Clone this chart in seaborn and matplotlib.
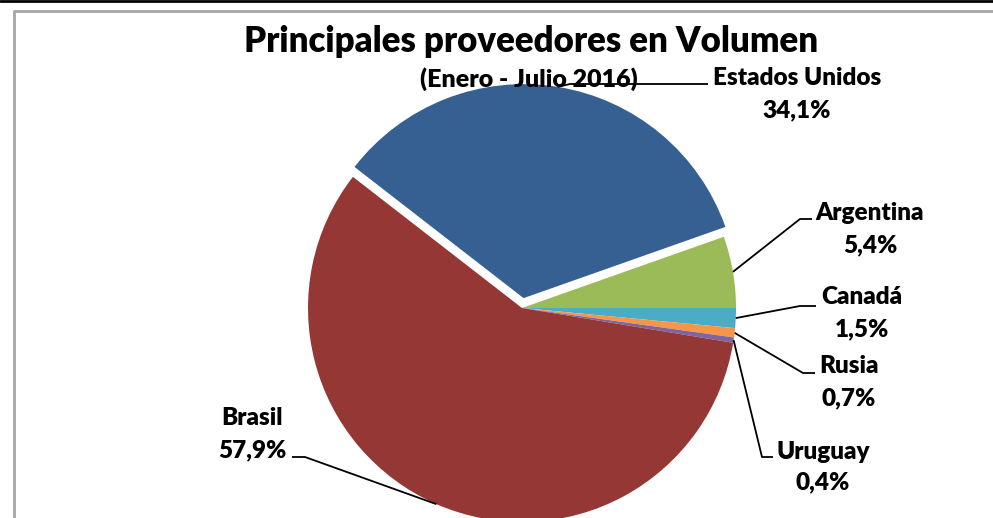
import numpy as np
import matplotlib
matplotlib.use("Agg")
import matplotlib.pyplot as plt
import seaborn as sns
from matplotlib.lines import Line2D

# ---- data ----
countries = ["Estados Unidos", "Argentina", "Canadá", "Rusia", "Uruguay", "Brasil"]
shares = [34.1, 5.4, 1.5, 0.7, 0.4, 57.9]
share_labels = ["34,1%", "5,4%", "1,5%", "0,7%", "0,4%", "57,9%"]
title = "Principales proveedores en Volumen"
subtitle = "(Enero - Julio 2016)"

# ---- style ----
sns.set_theme(style="white")
plt.rcParams["font.family"] = ["Lato", "DejaVu Sans"]
colors = ["#366092", "#9BBB59", "#4BACC6", "#F79646", "#8064A2", "#953735"]

W, H = 993, 518
fig = plt.figure(figsize=(W / 100, H / 100), dpi=100)
ax = fig.add_axes([0, 0, 1, 1])

cx, cy, R = 522, H - 308, 214
start = 142.2
explode = [10, 0, 0, 0, 0, 0]
wedges, _ = ax.pie(shares, colors=colors, startangle=start, counterclock=False,
                   center=(cx, cy), radius=R, explode=explode,
                   wedgeprops=dict(linewidth=0), frame=True)
ax.set_xlim(0, W)
ax.set_ylim(0, H)
ax.set_aspect("equal")
ax.axis("off")

# label layout in image px
layout = {
    "Estados Unidos": dict(elbow=(570, 84), end=(708, 84), tx=797, ty=78),
    "Argentina": dict(elbow=(800, 219), end=(812, 219), tx=870, ty=213),
    "Canadá": dict(elbow=(800, 306), end=(816, 306), tx=862, ty=297),
    "Rusia": dict(elbow=(803, 373), end=(815, 373), tx=849, ty=366),
    "Uruguay": dict(elbow=(762, 457), end=(773, 457), tx=823, ty=452),
    "Brasil": dict(elbow=(305, 457), end=(292, 457), tx=252, ty=418),
}

FW = 800
total = sum(shares)
cum = 0.0
for name, val, lab, w in zip(countries, shares, share_labels, wedges):
    a1 = start - 360 * cum / total
    a2 = start - 360 * (cum + val) / total
    cum += val
    mid = np.deg2rad((a1 + a2) / 2)
    wc = w.center
    ax_pt = (wc[0] + R * np.cos(mid), wc[1] + R * np.sin(mid))
    L = layout[name]
    ex, ey = L["elbow"]
    nx, ny = L["end"]
    ax.plot([ax_pt[0], ex, nx], [ax_pt[1], H - ey, H - ny], color="black", lw=1.3,
            solid_capstyle="butt", zorder=3)
    ax.text(L["tx"], H - L["ty"], name, ha="center", va="center",
            fontsize=17.5, fontweight=FW, color="black", zorder=4)
    dy = 32 if name != "Uruguay" else 30
    ax.text(L["tx"], H - L["ty"] - dy, lab, ha="center", va="center",
            fontsize=17.5, fontweight=FW, color="black", zorder=4)

ax.text(531, H - 41, title, ha="center", va="center", fontsize=25,
        fontweight=FW, color="black", zorder=4)
ax.text(529, H - 79, subtitle, ha="center", va="center", fontsize=18,
        fontweight=FW, color="black", zorder=2)

# frame
fig.add_artist(Line2D([0, 1], [1 - 1 / H, 1 - 1 / H], transform=fig.transFigure,
                      color="black", lw=2))
fig.add_artist(Line2D([14 / W, 14 / W, 1], [0, 1 - 11 / H, 1 - 11 / H],
                      transform=fig.transFigure, color="#A6A6A6", lw=2))

fig.savefig("out.png", dpi=100, facecolor="white")
